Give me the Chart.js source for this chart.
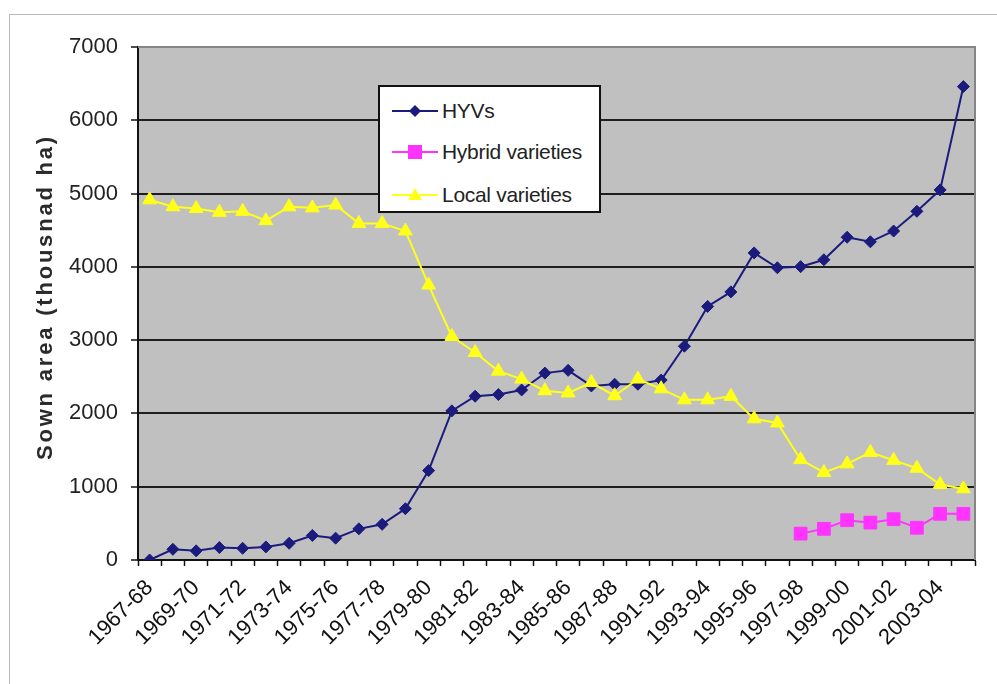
<!DOCTYPE html>
<html>
<head>
<meta charset="utf-8">
<script src="https://cdn.jsdelivr.net/npm/chart.js@4.4.1/dist/chart.umd.min.js"></script>
<style>
  html, body { margin: 0; padding: 0; background: #fff; }
  #wrap { position: relative; width: 997px; height: 684px; overflow: hidden;
          font-family: "Liberation Sans", Arial, sans-serif; }
  #frame { position: absolute; left: 9px; top: 14px; width: 1000px; height: 700px;
           border-left: 1px solid #b8b8b8; border-top: 1px solid #b8b8b8; }
  #chart { position: absolute; left: 0; top: 0; }
  #ytitle { position: absolute; left: 45px; top: 297px; transform: translate(-50%, -50%) rotate(-90deg);
            font-size: 22px; font-weight: bold; color: #2a2a2a; letter-spacing: 2.8px;
            white-space: nowrap; line-height: 1; }
  #legend { position: absolute; left: 378px; top: 85px; width: 223px; height: 128px;
            background: #fff; border: 2px solid #111; box-sizing: border-box; }
  .item { position: absolute; left: 11px; height: 26px; display: flex; align-items: center;
          font-size: 21px; color: #222; white-space: nowrap; letter-spacing: -0.3px; }
  .item svg { margin-right: 3px; }
</style>
</head>
<body>
<div id="wrap">
  <div id="frame"></div>
  <canvas id="chart" width="997" height="684"></canvas>
  <div id="ytitle"></div>
  <div id="legend"></div>
</div>
<script>
// Crop years (the 1988-89 and 1990-91 seasons are not in the series)
const categories = [
  "1967-68", "1968-69", "1969-70", "1970-71", "1971-72", "1972-73", "1973-74",
  "1974-75", "1975-76", "1976-77", "1977-78", "1978-79", "1979-80", "1980-81",
  "1981-82", "1982-83", "1983-84", "1984-85", "1985-86", "1986-87", "1987-88",
  "1989-90", "1991-92", "1992-93", "1993-94", "1994-95", "1995-96", "1996-97",
  "1997-98", "1998-99", "1999-00", "2000-01", "2001-02", "2002-03", "2003-04",
  "2004-05"
];

// Sown area, thousand ha
const hyvValues = [
  0, 146, 125, 170, 160, 178, 228, 335, 298, 425, 487, 700,
  1220, 2035, 2235, 2258, 2320, 2550, 2588, 2375, 2398, 2398,
  2455, 2917, 3460, 3658, 4190, 3988, 4003, 4097, 4404, 4342,
  4489, 4758, 5050, 6460
];
const hybridValues = [
  null, null, null, null, null, null, null, null, null, null, null, null,
  null, null, null, null, null, null, null, null, null, null, null, null,
  null, null, null, null, 360, 425, 543, 510, 557, 440, 630, 630
];
const localValues = [
  4915, 4820, 4796, 4745, 4758, 4630, 4819, 4805, 4843, 4593, 4593, 4490,
  3752, 3050, 2832, 2577, 2469, 2310, 2280, 2421, 2242, 2469,
  2336, 2186, 2186, 2233, 1926, 1870, 1370, 1195, 1312, 1468,
  1360, 1252, 1030, 972
];
const seriesNames = ["HYVs", "Hybrid varieties", "Local varieties"];
const yAxisTitle = "Sown area (thousnad ha)";
const yMin = 0, yMax = 7000, yStep = 1000;

const FONT = '"Liberation Sans", Arial, sans-serif';
const colors = { hyv: "#1b1b7e", hybrid: "#ff33ff", local: "#ffff1a" };

// grey plot area with a darker frame on its top and right edges
const plotFrame = {
  id: "plotFrame",
  beforeDraw(chart) {
    const { ctx, chartArea: a } = chart;
    ctx.save();
    ctx.fillStyle = "#c0c0c0";
    ctx.fillRect(a.left, a.top, a.right - a.left, a.bottom - a.top);
    ctx.restore();
  },
  beforeDatasetsDraw(chart) {
    const { ctx, chartArea: a } = chart;
    ctx.save();
    ctx.strokeStyle = "#858585";
    ctx.lineWidth = 2;
    ctx.beginPath();
    ctx.moveTo(a.left, a.top);
    ctx.lineTo(a.right, a.top);
    ctx.lineTo(a.right, a.bottom);
    ctx.stroke();
    ctx.restore();
  }
};

const lineDefaults = {
  borderWidth: 2,
  tension: 0,
  pointBorderWidth: 1,
  pointHoverRadius: 6,
  spanGaps: false,
  fill: false
};

new Chart(document.getElementById("chart"), {
  type: "line",
  data: {
    labels: categories,
    datasets: [
      Object.assign({}, lineDefaults, {
        label: seriesNames[0], data: hyvValues, order: 2,
        borderColor: colors.hyv, backgroundColor: colors.hyv,
        pointStyle: "rectRot", pointRadius: 6,
        pointBackgroundColor: colors.hyv, pointBorderColor: colors.hyv
      }),
      Object.assign({}, lineDefaults, {
        label: seriesNames[1], data: hybridValues, order: 1,
        borderColor: colors.hybrid, backgroundColor: colors.hybrid,
        pointStyle: "rect", pointRadius: 9,
        pointBackgroundColor: colors.hybrid, pointBorderColor: colors.hybrid
      }),
      Object.assign({}, lineDefaults, {
        label: seriesNames[2], data: localValues, order: 0,
        borderColor: colors.local, backgroundColor: colors.local,
        pointStyle: "triangle", pointRadius: 8,
        pointBackgroundColor: colors.local, pointBorderColor: colors.local
      })
    ]
  },
  options: {
    responsive: false,
    animation: false,
    layout: { padding: { left: 22, right: 22, top: 47, bottom: 0 } },
    plugins: { legend: { display: false }, tooltip: { enabled: false } },
    scales: {
      x: {
        offset: true,
        afterFit(scale) { scale.height = 124; },
        grid: {
          display: true, drawOnChartArea: false, drawTicks: true,
          tickLength: 6, tickColor: "#111", tickWidth: 1.5, offset: true
        },
        border: { display: true, color: "#111", width: 2 },
        ticks: {
          autoSkip: false, minRotation: 45, maxRotation: 45, padding: 9,
          color: "#111", font: { family: FONT, size: 22 },
          callback(value, index) { return index % 2 === 0 ? categories[index] : ""; }
        }
      },
      y: {
        min: yMin, max: yMax,
        afterFit(scale) { scale.width = 116; },
        grid: {
          color(ctx) { return ctx.tick && ctx.tick.value === yMax ? "#858585" : "#1e1e1e"; },
          lineWidth: 2, tickLength: 7, tickColor: "#111", tickWidth: 1.5
        },
        border: { display: true, color: "#111", width: 2 },
        ticks: {
          stepSize: yStep, padding: 13, color: "#222",
          font: { family: FONT, size: 22 },
          callback(value) { return String(value); }
        },
        title: { display: false }
      }
    }
  },
  plugins: [plotFrame]
});

document.getElementById("ytitle").textContent = yAxisTitle;

// legend box inside the plot area
const legendEntries = [
  { name: seriesNames[0], color: colors.hyv, marker: '<polygon points="24,4 30,10 24,16 18,10"/>' },
  { name: seriesNames[1], color: colors.hybrid, marker: '<rect x="17" y="3" width="14" height="14"/>' },
  { name: seriesNames[2], color: colors.local, marker: '<polygon points="24,3 31,15 17,15"/>' }
];
const legend = document.getElementById("legend");
const rowTops = [11, 52, 95];
legendEntries.forEach((e, i) => {
  const div = document.createElement("div");
  div.className = "item";
  div.style.top = rowTops[i] + "px";
  div.innerHTML =
    '<svg width="48" height="20" viewBox="0 0 48 20"><line x1="1" y1="10" x2="47" y2="10" stroke="' +
    e.color + '" stroke-width="2"/><g fill="' + e.color + '">' + e.marker + "</g></svg>" +
    "<span></span>";
  div.querySelector("span").textContent = e.name;
  legend.appendChild(div);
});
</script>
</body>
</html>
